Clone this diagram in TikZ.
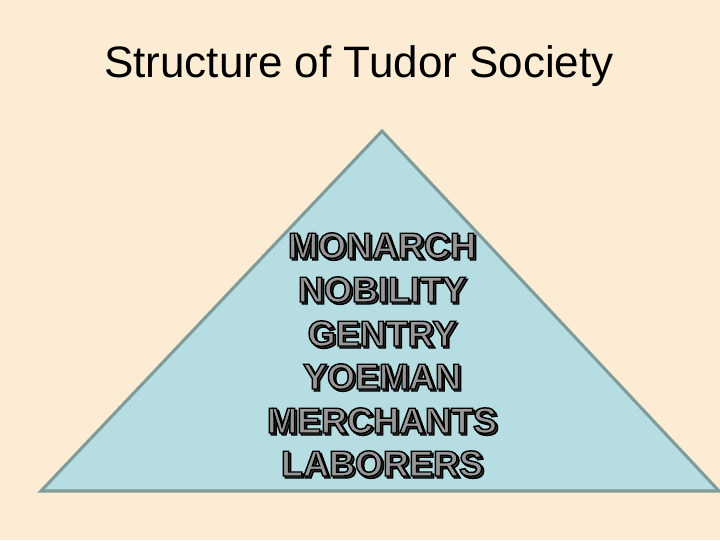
\documentclass[tikz,border=0pt]{standalone}
\usepackage{fontspec}
\setmainfont{Liberation Sans}
\definecolor{bgbeige}{HTML}{FBECD3}
\definecolor{trifill}{HTML}{B6DDE1}
\definecolor{triline}{HTML}{7F9C9A}
\definecolor{txtgray}{HTML}{999999}
\newcommand{\outlinetext}[1]{\special{pdf:literal direct 2 Tr 1.1 w 0 0 0 RG}#1\special{pdf:literal direct 0 Tr}}
\tikzset{
  rank/.style={font=\fontsize{27}{27}\selectfont\bfseries, anchor=base, inner sep=0pt},
  title/.style={font=\fontsize{33}{33}\selectfont, anchor=base, inner sep=0pt, text=black}
}
\newcommand{\ranktext}[3]{%
  \node[rank, text=black!75] at (#1+2,#2+2) {\outlinetext{#3}};
  \node[rank, text=txtgray] (#3) at (#1,#2) {\outlinetext{#3}};
}
\begin{document}
\begin{tikzpicture}[x=0.75pt,y=-0.75pt]
\fill[bgbeige] (0,0) rectangle (720,540);
\useasboundingbox (0,0) rectangle (720,540);
\node[title] (title) at (359,77) {Structure of Tudor Society};
\coordinate (apex) at (382,131);
\coordinate (bl) at (41,491);
\coordinate (br) at (719,491);
\draw[triline, fill=trifill, line width=2.3pt, line join=miter] (apex) -- (bl) -- (br) -- cycle;
\ranktext{382}{258}{MONARCH}
\ranktext{382}{302}{NOBILITY}
\ranktext{382}{346}{GENTRY}
\ranktext{382}{389}{YOEMAN}
\ranktext{382}{433}{MERCHANTS}
\ranktext{382}{476}{LABORERS}
\end{tikzpicture}
\end{document}
